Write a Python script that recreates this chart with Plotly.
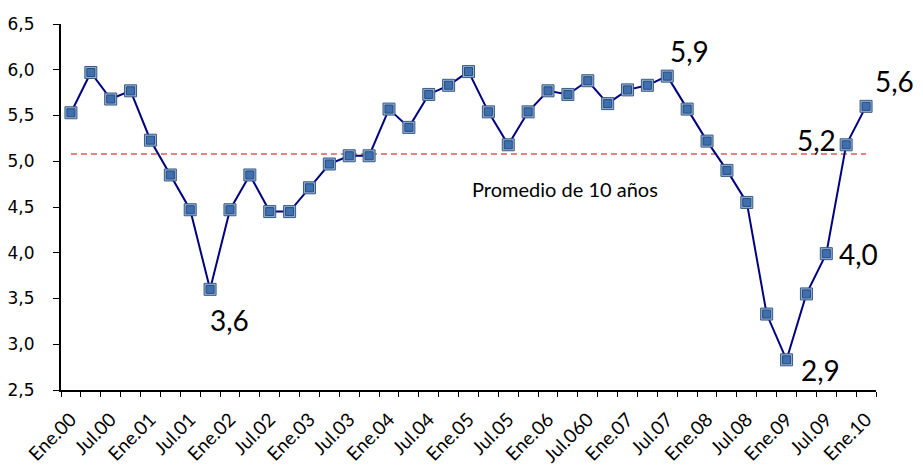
import plotly.graph_objects as go

quarters = []
for yr in range(0, 11):
    for q in ["Ene", "Abr", "Jul", "Oct"]:
        quarters.append(f"{q}.{yr:02d}")
quarters = quarters[:41]

values = [5.53, 5.97, 5.68, 5.77, 5.23, 4.85, 4.47, 3.60, 4.47, 4.85,
          4.45, 4.45, 4.71, 4.97, 5.06, 5.06, 5.57, 5.37, 5.73, 5.83,
          5.98, 5.54, 5.18, 5.54, 5.77, 5.73, 5.88, 5.63, 5.78, 5.83,
          5.93, 5.57, 5.22, 4.90, 4.55, 3.33, 2.83, 3.55, 3.99, 5.18,
          5.60]

tick_labels = ["Ene.00", "Jul.00", "Ene.01", "Jul.01", "Ene.02", "Jul.02", "Ene.03",
               "Jul.03", "Ene.04", "Jul.04", "Ene.05", "Jul.05", "Ene.06", "Jul.060",
               "Ene.07", "Jul.07", "Ene.08", "Jul.08", "Ene.09", "Jul.09", "Ene.10"]

average_10y = 5.08
avg_label = "Promedio de 10 años"

# labelled points: (index, text, xshift, yshift)
labelled = [(7, "3,6", 19, -31), (30, "5,9", 22, 25), (36, "2,9", 34, -10),
            (38, "4,0", 32, 0), (39, "5,2", -30, 5), (40, "5,6", 28, 25)]

idx = list(range(len(quarters)))

fig = go.Figure()

fig.add_trace(go.Scatter(
    x=[idx[0], idx[-1]], y=[average_10y, average_10y], mode="lines",
    line=dict(color="#e05a5a", width=1.5, dash="6px,4px"),
    hoverinfo="skip", showlegend=False))

fig.add_trace(go.Scatter(
    x=idx, y=values, mode="lines",
    line=dict(color="#000080", width=2),
    text=quarters, showlegend=False))

fig.add_trace(go.Scatter(
    x=idx, y=values, mode="markers",
    marker=dict(symbol="square", size=12, color="#8fb0da",
                line=dict(color="#3b5a80", width=1)),
    text=quarters, showlegend=False, hoverinfo="skip"))

fig.add_trace(go.Scatter(
    x=idx, y=values, mode="markers",
    marker=dict(symbol="square", size=8, color="#3f6fae",
                line=dict(color="#2a4c7a", width=1)),
    text=quarters, showlegend=False))

for i, txt, xs, ys in labelled:
    fig.add_annotation(x=idx[i], y=values[i], text=txt, showarrow=False,
                       xshift=xs, yshift=ys,
                       font=dict(family="Lato, sans-serif", size=28, color="#000"))

fig.add_annotation(x=24.85, y=4.70, text=avg_label, showarrow=False,
                   font=dict(family="Lato, sans-serif", size=20, color="#000"))

fig.update_layout(
    width=915, height=463,
    margin=dict(l=53, r=47, t=16, b=81),
    paper_bgcolor="white", plot_bgcolor="white",
    separators=",.",
    font=dict(family="DejaVu Sans, sans-serif", color="#000"),
)

fig.update_xaxes(
    automargin=False,
    range=[-0.5, len(quarters) - 0.5],
    tickmode="array", tickvals=idx[::2], ticktext=tick_labels,
    tickangle=-45, ticks="", showgrid=False, zeroline=False,
    showline=True, linecolor="#000", linewidth=2,
    ticklabelstandoff=9,
    tickfont=dict(family="Lato, sans-serif", size=19, color="#000"),
    minor=dict(ticks="outside", tickmode="linear", tick0=-0.5, dtick=1,
               ticklen=5, tickcolor="#000", tickwidth=1, showgrid=False),
)

fig.update_yaxes(
    automargin=False,
    range=[2.5, 6.5], dtick=0.5, tick0=2.5, tickformat=".1f",
    ticks="outside", ticklen=6, tickcolor="#000",
    showgrid=False, zeroline=False,
    showline=True, linecolor="#000", linewidth=2,
    ticklabelstandoff=15,
    tickfont=dict(family="DejaVu Sans, sans-serif", size=17, color="#000"),
)

fig.write_html("out.html")
